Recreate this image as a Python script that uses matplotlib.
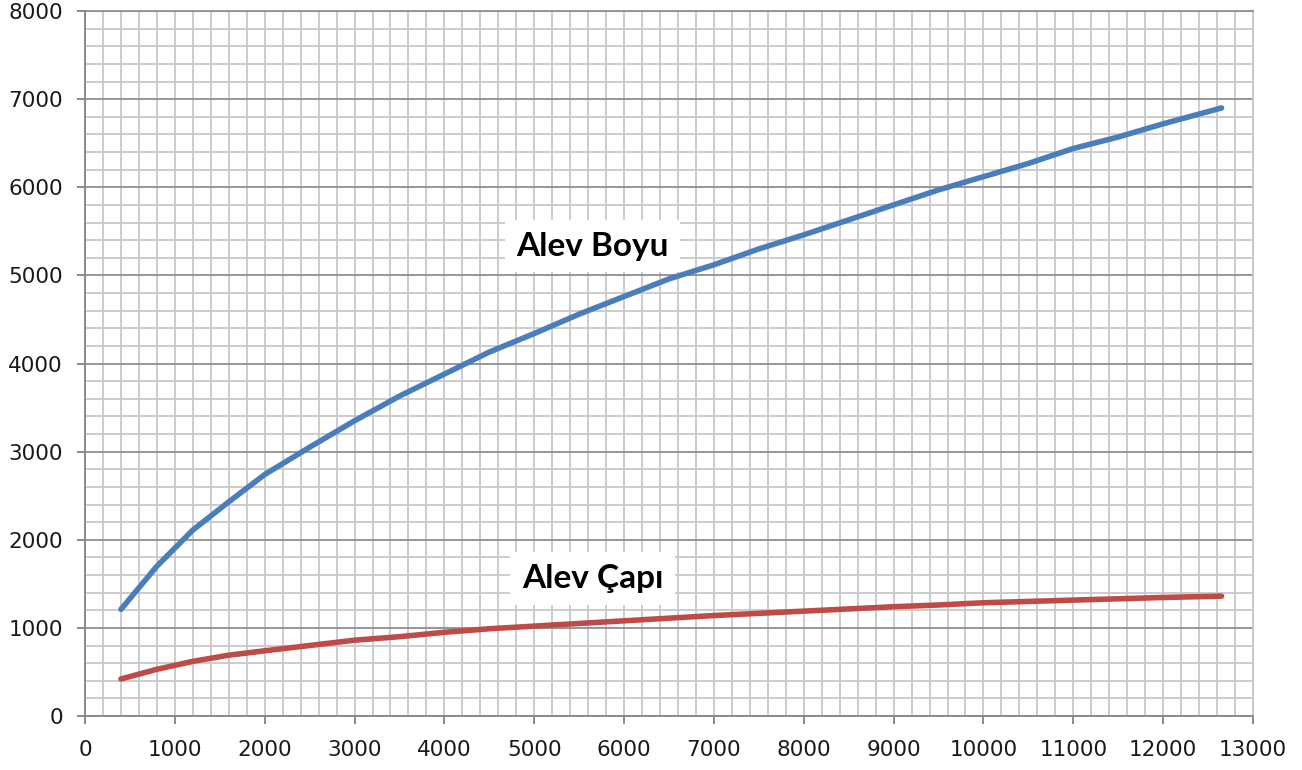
import matplotlib
matplotlib.use("Agg")
import matplotlib.pyplot as plt
from matplotlib.ticker import MultipleLocator

x_vals = [400, 800, 1200, 1600, 2000, 2500, 3000, 3500, 4000, 4500, 5000, 5500, 6000,
          6500, 7000, 7500, 8000, 8500, 9000, 9500, 10000, 10500, 11000, 11500, 12000, 12650]
alev_boyu = [1210, 1700, 2110, 2430, 2740, 3050, 3350, 3630, 3880, 4130, 4340, 4560, 4760,
             4960, 5120, 5300, 5460, 5630, 5800, 5970, 6120, 6270, 6440, 6570, 6720, 6900]
alev_capi = [420, 530, 620, 690, 740, 800, 860, 900, 950, 990, 1020, 1050, 1080,
             1110, 1140, 1165, 1190, 1215, 1240, 1260, 1285, 1300, 1315, 1330, 1345, 1360]
series_labels = ["Alev Boyu", "Alev Çapı"]

fig = plt.figure(figsize=(13.02, 7.70), dpi=100)
ax = fig.add_axes([85/1302, 1-716/770, (1253-85)/1302, (716-11)/770])

ax.set_xlim(0, 13000)
ax.set_ylim(0, 8000)
ax.xaxis.set_major_locator(MultipleLocator(1000))
ax.xaxis.set_minor_locator(MultipleLocator(200))
ax.yaxis.set_major_locator(MultipleLocator(1000))
ax.yaxis.set_minor_locator(MultipleLocator(200))

ax.grid(which="minor", axis="both", color="#c8c8c8", lw=1.3, zorder=0)
ax.grid(which="major", axis="x", color="#c8c8c8", lw=1.3, zorder=0)
ax.grid(which="major", axis="y", color="#8f8f8f", lw=1.3, zorder=0)
ax.set_axisbelow(True)

for s in ["left", "bottom"]:
    ax.spines[s].set_color("#8a8a8a")
    ax.spines[s].set_linewidth(1.4)
ax.spines["right"].set_color("#c8c8c8")
ax.spines["right"].set_linewidth(1.3)
ax.spines["top"].set_color("#8f8f8f")
ax.spines["top"].set_linewidth(1.3)

ax.tick_params(which="major", direction="out", length=6, width=1.4, color="#8a8a8a",
               labelsize=15.5, labelcolor="#1a1a1a")
ax.tick_params(which="minor", length=0)
ax.tick_params(axis="x", pad=11)
ax.tick_params(axis="y", pad=10)

ax.plot(x_vals, alev_boyu, color="#4a7ebb", lw=4.0, solid_capstyle="round", zorder=3)
ax.plot(x_vals, alev_capi, color="#be4b48", lw=4.0, solid_capstyle="round", zorder=3)

bbox = dict(boxstyle="square,pad=0.35", fc="white", ec="none")
ax.text(5650, 5330, series_labels[0], ha="center", va="center", fontsize=24,
        fontweight="bold", family=["Lato", "DejaVu Sans"], color="black", bbox=bbox, zorder=4)
ax.text(5650, 1560, series_labels[1], ha="center", va="center", fontsize=24,
        fontweight="bold", family=["Lato", "DejaVu Sans"], color="black", bbox=bbox, zorder=4)

fig.savefig("out.png", dpi=100)
